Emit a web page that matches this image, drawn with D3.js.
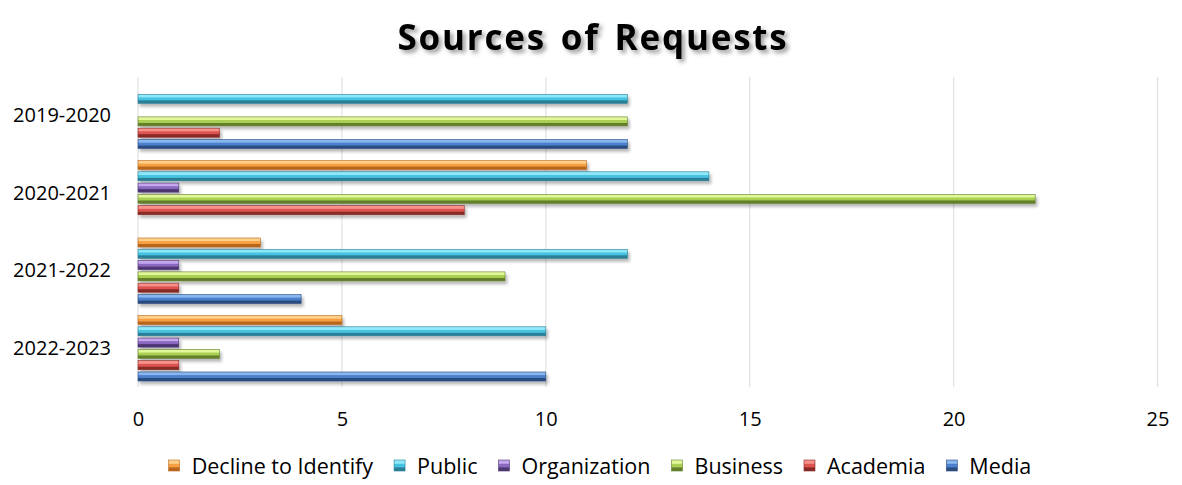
<!DOCTYPE html>
<html><head><meta charset="utf-8">
<script src="https://cdn.jsdelivr.net/npm/d3@7"></script>
<style>body{margin:0;background:#fff;} svg{display:block;font-family:"Open Sans",sans-serif;}</style>
</head><body>
<svg id="chart" width="1182" height="485"></svg>
<script>
const categories = ["2019-2020", "2020-2021", "2021-2022", "2022-2023"];
const seriesNames = ["Decline to Identify", "Public", "Organization", "Business", "Academia", "Media"];
const declineToIdentify = [0, 11, 3, 5];
const publicReq = [12, 14, 12, 10];
const organization = [0, 1, 1, 1];
const business = [12, 22, 9, 2];
const academia = [2, 8, 1, 1];
const media = [12, 0, 4, 10];
const xTicks = [0, 5, 10, 15, 20, 25];
const title = "Sources of Requests";

const seriesValues = [declineToIdentify, publicReq, organization, business, academia, media];
const colors = {
  "Decline to Identify": ["#ffd08a", "#f7a043", "#b8661c"],
  "Public": ["#8ee8fa", "#46c3e0", "#2a7f96"],
  "Organization": ["#c4a6ee", "#8a68c0", "#4d3672"],
  "Business": ["#e2f79a", "#a9d052", "#637f2c"],
  "Academia": ["#f8908c", "#dc534f", "#882a27"],
  "Media": ["#88b6ef", "#4c80cc", "#2b4c80"]
};

const svg = d3.select("#chart");
const W = 1182, H = 485;
const m = {left: 138, right: 1182 - 1157.5, top: 77, bottom: 485 - 387};

const defs = svg.append("defs");
seriesNames.forEach((s, i) => {
  const c = colors[s];
  const g = defs.append("linearGradient").attr("id", "g" + i).attr("x1", 0).attr("x2", 0).attr("y1", 0).attr("y2", 1);
  g.append("stop").attr("offset", "0%").attr("stop-color", c[0]);
  g.append("stop").attr("offset", "30%").attr("stop-color", c[0]);
  g.append("stop").attr("offset", "40%").attr("stop-color", c[1]);
  g.append("stop").attr("offset", "62%").attr("stop-color", c[1]);
  g.append("stop").attr("offset", "72%").attr("stop-color", c[2]);
  g.append("stop").attr("offset", "100%").attr("stop-color", c[2]);
});
const sh = defs.append("filter").attr("id", "shadow").attr("x", "-5%").attr("y", "-50%").attr("width", "120%").attr("height", "250%");
sh.append("feDropShadow").attr("dx", 2).attr("dy", 3).attr("stdDeviation", 1.8).attr("flood-color", "#000").attr("flood-opacity", 0.28);
const tsh = defs.append("filter").attr("id", "tshadow").attr("x", "-10%").attr("y", "-30%").attr("width", "130%").attr("height", "180%");
tsh.append("feDropShadow").attr("dx", 3).attr("dy", 3).attr("stdDeviation", 2).attr("flood-color", "#000").attr("flood-opacity", 0.4);

const x = d3.scaleLinear().domain([0, 25]).range([m.left, W - m.right]);
const y0 = d3.scaleBand().domain(categories).range([m.top, H - m.bottom]).padding(0);
const y1 = d3.scaleBand().domain(seriesNames).range([0, y0.bandwidth()]).paddingInner(0.2).paddingOuter(0.53);

// gridlines
svg.append("g").selectAll("line").data(xTicks).join("line")
  .attr("x1", d => x(d)).attr("x2", d => x(d))
  .attr("y1", m.top).attr("y2", H - m.bottom)
  .attr("stroke", "#e3e3e3").attr("stroke-width", 1.3);

// title
svg.append("text").attr("x", 593).attr("y", 50).attr("text-anchor", "middle")
  .attr("font-size", 35).attr("font-weight", 700).attr("fill", "#000")
  .attr("letter-spacing", 1.8).attr("word-spacing", 4)
  .attr("filter", "url(#tshadow)").text(title);

// bars
const groups = svg.append("g").selectAll("g").data(categories).join("g")
  .attr("transform", d => `translate(0,${y0(d)})`);
groups.selectAll("rect").data((c, ci) => seriesNames.map((s, si) => ({s, si, v: seriesValues[si][ci]})).filter(d => d.v > 0))
  .join("rect")
  .attr("x", x(0)).attr("y", d => y1(d.s))
  .attr("width", d => x(d.v) - x(0)).attr("height", y1.bandwidth())
  .attr("fill", d => `url(#g${d.si})`)
  .attr("stroke", d => colors[d.s][2]).attr("stroke-width", 0.6)
  .attr("filter", "url(#shadow)");

// y axis labels
const yAxis = d3.axisLeft(y0).tickSize(0).tickPadding(0);
const ya = svg.append("g").attr("transform", `translate(${m.left - 27},0)`).call(yAxis);
ya.select(".domain").remove();
ya.selectAll("text").attr("font-size", 20).attr("fill", "#000").attr("font-family", "Open Sans");

// x axis labels
const xAxis = d3.axisBottom(x).tickValues(xTicks).tickSize(0).tickPadding(0);
const xa = svg.append("g").attr("transform", `translate(0,${H - m.bottom + 25})`).call(xAxis);
xa.select(".domain").remove();
xa.selectAll("text").attr("font-size", 20).attr("fill", "#000").attr("font-family", "Open Sans");

// legend
const leg = svg.append("g");
let lx = 0;
const gap = 21;
seriesNames.forEach((s, i) => {
  const g = leg.append("g");
  g.append("rect").attr("x", 0).attr("y", -6).attr("width", 11).attr("height", 11)
    .attr("fill", `url(#g${i})`).attr("stroke", colors[s][2]).attr("stroke-width", 0.6);
  const t = g.append("text").attr("x", 23).attr("y", 7.5).attr("font-size", 21.5).attr("fill", "#000").text(s);
  const w = 23 + t.node().getComputedTextLength();
  g.attr("transform", `translate(${lx},0)`);
  lx += w + gap;
});
const totalW = lx - gap;
leg.attr("transform", `translate(${600 - totalW / 2},466)`);
</script>
</body></html>
